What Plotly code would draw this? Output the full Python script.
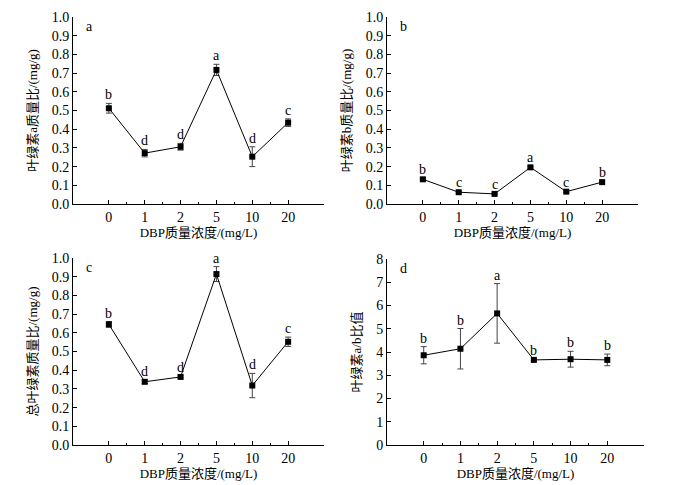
import plotly.graph_objects as go

categories = ["0", "1", "2", "5", "10", "20"]

chla = [0.512, 0.272, 0.306, 0.717, 0.253, 0.435]
chla_err = [0.026, 0.02, 0.018, 0.03, 0.053, 0.02]
chla_sig = ["b", "d", "d", "a", "d", "c"]

chlb = [0.132, 0.063, 0.054, 0.196, 0.066, 0.117]
chlb_err = [0.005, 0.004, 0.004, 0.005, 0.004, 0.005]
chlb_sig = ["b", "c", "c", "a", "c", "b"]

chlt = [0.645, 0.338, 0.364, 0.914, 0.318, 0.552]
chlt_err = [0.015, 0.01, 0.006, 0.04, 0.065, 0.025]
chlt_sig = ["b", "d", "d", "a", "d", "c"]

ratio = [3.86, 4.14, 5.66, 3.66, 3.69, 3.66]
ratio_err = [0.37, 0.87, 1.28, 0.03, 0.34, 0.25]
ratio_sig = ["b", "b", "a", "b", "b", "b"]

xtitle = "DBP质量浓度/(mg/L)"
ytitles = ["叶绿素a质量比/(mg/g)", "叶绿素b质量比/(mg/g)", "总叶绿素质量比/(mg/g)", "叶绿素a/b比值"]
panel_tags = ["a", "b", "c", "d"]

FONT = "Liberation Serif, Times New Roman, Noto Sans CJK SC, serif"
W, H = 694, 485

def px_dom(x0, x1, y0, y1):
    return [x0 / W, x1 / W], [1 - y1 / H, 1 - y0 / H]

panels = [
    (chla, chla_err, chla_sig, px_dom(73, 324, 17, 204), [0, 1.0], 0.1),
    (chlb, chlb_err, chlb_sig, px_dom(387, 638, 17, 204), [0, 1.0], 0.1),
    (chlt, chlt_err, chlt_sig, px_dom(73, 324, 258, 445), [0, 1.0], 0.1),
    (ratio, ratio_err, ratio_sig, px_dom(387, 644, 259, 445), [0, 8], 1),
]

fig = go.Figure()
xs = list(range(len(categories)))
annotations = []
layout = {}
for i, (vals, errs, sig, (xd, yd), yr, dt) in enumerate(panels):
    n = "" if i == 0 else str(i + 1)
    fig.add_trace(go.Scatter(
        x=xs, y=vals, mode="lines+markers",
        xaxis="x" + n, yaxis="y" + n,
        line=dict(color="black", width=1),
        marker=dict(symbol="square", size=6, color="black"),
        error_y=dict(type="data", array=errs, visible=True, color="#444",
                     thickness=1, width=3),
        showlegend=False,
    ))
    layout["xaxis" + n] = dict(
        domain=xd, range=[-1, 6], anchor="y" + n, automargin=False,
        tickmode="array", tickvals=xs, ticktext=categories,
        ticks="inside", ticklen=4, tickwidth=1, tickcolor="black",
        minor=dict(tickmode="array", tickvals=[k + 0.5 for k in range(5)],
                   ticks="inside", ticklen=2, tickwidth=1, tickcolor="black"),
        showline=True, linecolor="black", linewidth=1, showgrid=False,
        zeroline=False, tickfont=dict(family=FONT, size=14, color="black"),
        title=dict(text=xtitle, font=dict(family=FONT, size=13, color="black"),
                   standoff=1),
    )
    layout["yaxis" + n] = dict(
        domain=yd, range=yr, anchor="x" + n, dtick=dt, automargin=False,
        tickformat=".1f" if dt < 1 else "d",
        ticks="inside", ticklen=4, tickwidth=1, tickcolor="black",
        showline=True, linecolor="black", linewidth=1, showgrid=False,
        zeroline=False, tickfont=dict(family=FONT, size=14, color="black"),
        title=dict(text=ytitles[i], font=dict(family=FONT, size=13, color="black"),
                   standoff=11),
    )
    for k, s in enumerate(sig):
        annotations.append(dict(
            x=xs[k], y=vals[k] + errs[k], xref="x" + n, yref="y" + n,
            text=s, showarrow=False, yanchor="bottom", yshift=-1,
            font=dict(family=FONT, size=14, color="black"),
        ))
    annotations.append(dict(
        x=-0.55, y=0.95, xref="x" + n, yref=f"y{n} domain",
        text=panel_tags[i], showarrow=False, xanchor="center", yanchor="middle",
        font=dict(family=FONT, size=14, color="black"),
    ))

fig.update_layout(
    width=W, height=H, margin=dict(l=0, r=0, t=0, b=0),
    paper_bgcolor="white", plot_bgcolor="white",
    font=dict(family=FONT, size=13, color="black"),
    annotations=annotations,
    **layout,
)

fig.write_html("out.html", config={"displayModeBar": False},
               post_script="document.body.style.margin='0';document.body.style.overflow='hidden';")
